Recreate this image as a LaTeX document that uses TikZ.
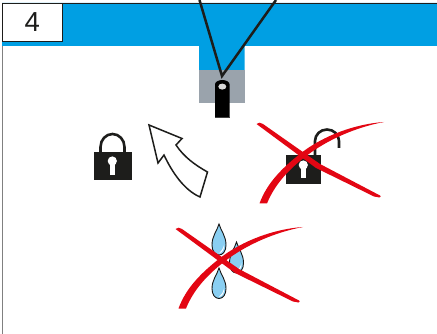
\documentclass[tikz,border=0pt]{standalone}
\usepackage{fontspec}
\setmainfont{Liberation Sans}
\definecolor{bandblue}{HTML}{009FE3}
\definecolor{stemgrey}{HTML}{9AA3AC}
\definecolor{dark}{HTML}{1D1D1B}
\definecolor{crossred}{HTML}{E30613}
\definecolor{dropblue}{HTML}{8ACFF2}
\tikzset{
  x=1pt,y=-1pt,
  wire/.style={draw=dark,line width=2.5pt},
  lockbody/.style={fill=dark,draw=none},
  shackle/.style={draw=dark,line width=2.6pt},
  redstroke/.style={fill=crossred,draw=none},
  dropshape/.style={fill=dropblue,draw=dark!80!black,line width=0.9pt},
  shine/.style={fill=white,draw=none}
}
\newcommand{\dropat}[3]{% x, top y, bottom y
  \pgfmathsetmacro{\myh}{#3-#2}
  \begin{scope}[shift={(#1,#2)},y=-\myh/31*1pt]
    \draw[dropshape] (0,0) .. controls (2,7) and (7,12) .. (7,21) .. controls (7,27) and (4,31) .. (0,31) .. controls (-4,31) and (-7,27) .. (-7,21) .. controls (-7,12) and (-2,7) .. (0,0) -- cycle;
    \fill[shine] (5,21) .. controls (5.5,25) and (3.5,28.5) .. (0,29.5) .. controls (2.5,27) and (4,25) .. (5,21) -- cycle;
  \end{scope}}
\newcommand{\redcross}{%
  \fill[redstroke] (256.5,124) .. controls (258,122) and (261,122.5) .. (263,124) -- (320,164) -- (380,195.5) .. controls (381,196) and (381,197.5) .. (379.5,197.5) -- (374,196.5) -- (316,168) -- cycle;
  \fill[redstroke] (259.5,203.5) .. controls (267,183) and (282,168) .. (301.5,152.7) .. controls (324,135.5) and (355,124) .. (384,122) .. controls (357,127) and (327,139.5) .. (304.5,157.3) .. controls (287,171) and (274,186) .. (267,203.5) -- cycle;}
\begin{document}
\begin{tikzpicture}
\useasboundingbox (0,0) rectangle (437,334);
\fill[white] (0,0) rectangle (437,334);
% band and stem
\fill[bandblue] (2,3) -- (437,3) -- (437,46) -- (244.5,46) -- (244.5,70) -- (199,70) -- (199,46) -- (2,46) -- cycle;
\fill[stemgrey] (199,70) rectangle (244.5,103);
\draw[draw=dark,line width=0.8pt] (2,3.3) -- (437,3.3);
\draw[draw=gray,line width=0.8pt] (2.5,46) -- (2.5,334);
\node[draw=dark,fill=white,line width=0.8pt,minimum width=59.5pt,minimum height=37.5pt,inner sep=0pt,font=\fontsize{27.5}{27.5}\selectfont,text=dark] (num) at (32.3,22.3) {4};
% wires
\coordinate (wa) at (199.5,0);
\coordinate (wb) at (276,0);
\coordinate (wj) at (222,76);
\draw[wire,line join=miter] (wa) -- (wj) -- (wb);
% plug
\fill[black] (215,84.5) arc[start angle=180,end angle=360,x radius=7.3,y radius=4.5] -- (229.6,117) -- (215,117) -- cycle;
\fill[black!75] (215,117) rectangle (229.6,117.6);
\fill[black!15!white] (222.3,86.6) ellipse[x radius=4,y radius=3];
% closed lock
\draw[shackle] (100.5,153) -- (100.5,147) arc[start angle=180,end angle=360,x radius=12,y radius=13] -- (124.5,153);
\fill[lockbody] (94,152) rectangle (131.5,180.5);
\fill[white] (112.3,161) circle[radius=4.6];
\fill[white] (110,161) rectangle (114.6,175.5);
% curved arrow
\draw[draw=dark,fill=white,line width=1.5pt,line join=miter] (149,125) -- (182,138.5) -- (176,145) .. controls (184,157) and (195,165) .. (207.5,172) -- (200,197) .. controls (184,190) and (172,172) .. (164,155) -- (158,163) -- cycle;
% open lock
\draw[shackle] (315,156) -- (315,141) arc[start angle=180,end angle=360,x radius=12,y radius=11.5] -- (339,148);
\fill[lockbody] (285.7,155) rectangle (321,184);
\fill[white] (303.3,165) circle[radius=4.6];
\fill[white] (301,165) rectangle (305.6,178.5);
% red cross 1
\redcross
% drops
\dropat{219}{224}{255}
\dropat{236.5}{242}{273}
\dropat{219}{268}{298.5}
% red cross 2
\begin{scope}[shift={(-81,105)}]
\redcross
\end{scope}
\end{tikzpicture}
\end{document}
